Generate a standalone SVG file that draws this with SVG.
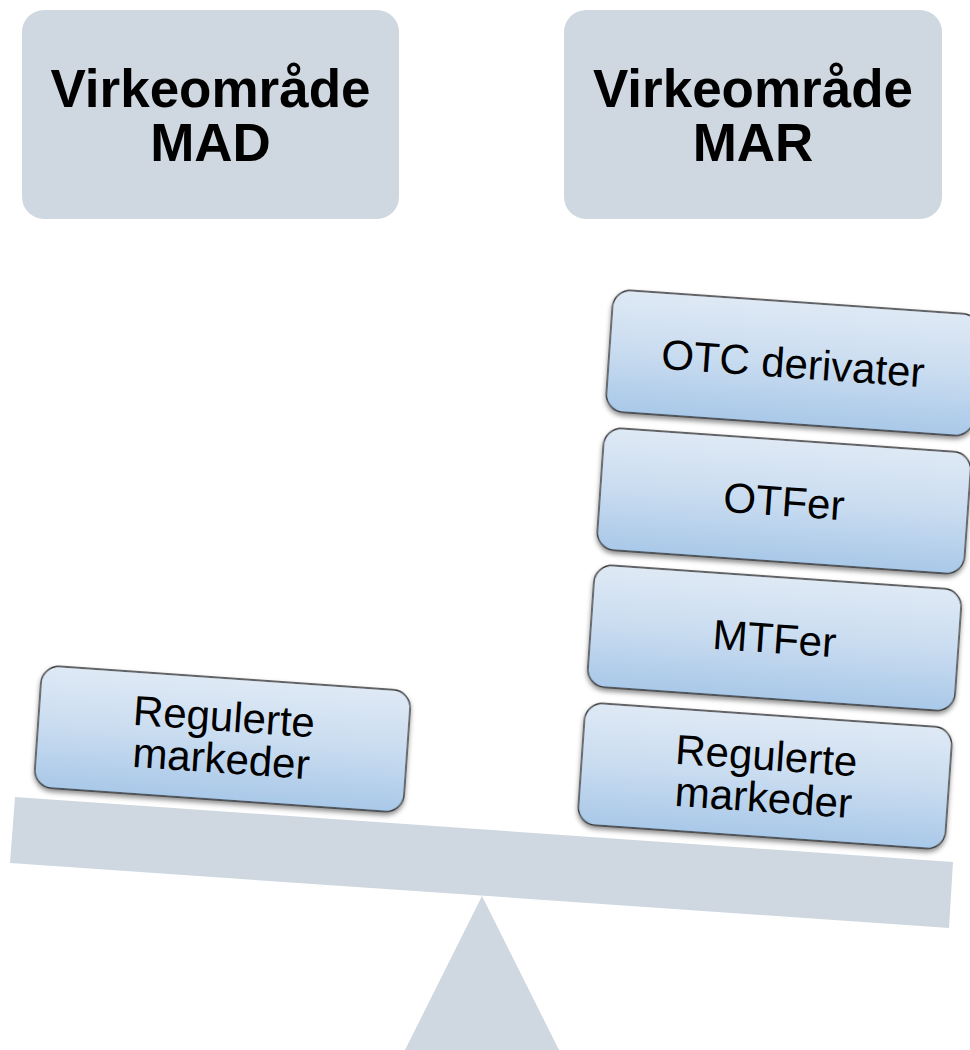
<svg xmlns="http://www.w3.org/2000/svg" width="970" height="1050" viewBox="0 0 970 1050">
<defs>
<linearGradient id="blk" x1="0" y1="0" x2="0" y2="1">
<stop offset="0" stop-color="#DFE9F5"/>
<stop offset="0.5" stop-color="#C9DCF0"/>
<stop offset="1" stop-color="#A9C8E8"/>
</linearGradient>
<filter id="sh" x="-10%" y="-20%" width="120%" height="150%">
<feDropShadow dx="0" dy="3" stdDeviation="2.5" flood-color="#000" flood-opacity="0.45"/>
</filter>
<style>
.hdr{fill:#CFD8E0}
.hdrt{font-family:"Liberation Sans",Arial,sans-serif;font-weight:bold;font-size:53px;fill:#000;text-anchor:middle}
.beam{fill:#CFD8E0}
.blk{fill:url(#blk);stroke:#333;stroke-width:1.3}
.bt{font-family:"Liberation Sans",Arial,sans-serif;font-size:42px;fill:#000;text-anchor:middle}
</style>
</defs>
<rect width="970" height="1050" fill="#fff"/>
<g id="scale">
<polygon class="beam" points="482,896 405,1050 559,1050"/>
<polygon class="beam" points="15,797 953,862 949,928 10,863"/>
</g>
<g id="hdr-mad">
<rect class="hdr" x="22" y="10" width="377" height="209" rx="22"/>
<text class="hdrt" x="210.5" y="107">Virkeområde</text>
<text class="hdrt" x="210.5" y="161">MAD</text>
</g>
<g id="hdr-mar">
<rect class="hdr" x="564" y="10" width="378" height="209" rx="22"/>
<text class="hdrt" x="753" y="107">Virkeområde</text>
<text class="hdrt" x="753" y="161">MAR</text>
</g>
<g id="mad-regulerte" transform="translate(222.5,739) rotate(4)">
<rect class="blk" filter="url(#sh)" x="-185" y="-61" width="370" height="122" rx="18"/>
<text class="bt" x="0" y="-8">Regulerte</text>
<text class="bt" x="0" y="34">markeder</text>
</g>
<g id="mar-regulerte" transform="translate(765,776) rotate(4)">
<rect class="blk" filter="url(#sh)" x="-184" y="-61" width="368" height="122" rx="18"/>
<text class="bt" x="0" y="-6">Regulerte</text>
<text class="bt" x="0" y="36">markeder</text>
</g>
<g id="mar-mtfer" transform="translate(774.5,638) rotate(4)">
<rect class="blk" filter="url(#sh)" x="-184" y="-61" width="368" height="122" rx="18"/>
<text class="bt" x="0" y="15">MTFer</text>
</g>
<g id="mar-otfer" transform="translate(784,501) rotate(4)">
<rect class="blk" filter="url(#sh)" x="-184" y="-61" width="368" height="122" rx="18"/>
<text class="bt" x="0" y="15">OTFer</text>
</g>
<g id="mar-otc" transform="translate(793,363) rotate(4)">
<rect class="blk" filter="url(#sh)" x="-184" y="-61" width="368" height="122" rx="18"/>
<text class="bt" x="0" y="15">OTC derivater</text>
</g>
<g id="connectors"/>
</svg>
